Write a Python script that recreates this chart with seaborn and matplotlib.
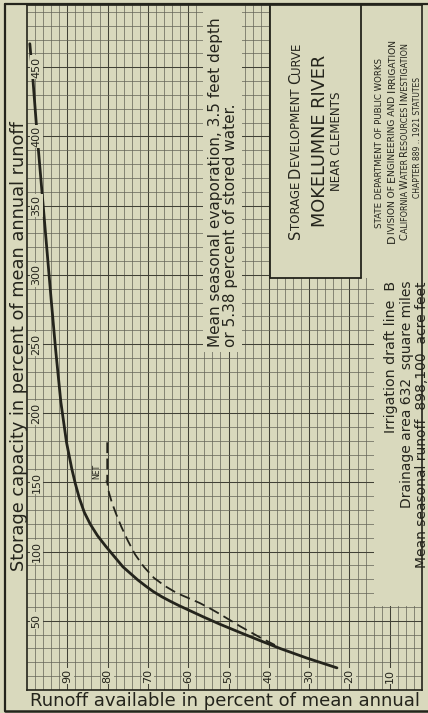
import numpy as np
import pandas as pd
import matplotlib
matplotlib.use("Agg")
import matplotlib.pyplot as plt
from matplotlib.patches import Rectangle
from matplotlib.lines import Line2D
from matplotlib.font_manager import FontProperties
import matplotlib.transforms as mtransforms
import seaborn as sns

# ---------------- data ----------------
gross_runoff = [99.3, 98.5, 97.4, 95.9, 95.2, 94.0, 92.9, 91.6, 90.2, 88.9, 88.0, 87.0,
                85.8, 84.3, 82.5, 80.5, 78.5, 76.2, 72.5, 70.5, 68.7, 66.5, 64.5, 62.3,
                60.3, 56.0, 52.1, 47.1, 42.0, 37.2, 30.5, 23.1]
gross_storage = [467, 440, 398, 347, 323, 282, 246, 208, 179, 160, 149, 138.5,
                 128.5, 119.8, 111.5, 104, 97, 89, 79.5, 75, 71.2, 67.3, 64.2, 61,
                 58.3, 52.5, 47.5, 41.5, 35.5, 30, 23, 16]

net_runoff = [80.1, 80.1, 79.7, 79.0, 78.0, 76.6, 75.0, 73.2, 71.0, 68.5, 65.7, 62.8,
              60.0, 57.1, 54.5, 52.1, 47.1, 42.2, 38.5]
net_storage = [179, 150, 143, 136, 128, 118, 108, 98, 89, 81, 75, 70,
               66.5, 62.8, 58.8, 54.8, 46, 38, 32.5]

storage_ticks = [50, 100, 150, 200, 250, 300, 350, 400, 450]
runoff_ticks = [90, 80, 70, 60, 50, 40, 30, 20, 10]

x_label = "Runoff available in percent of mean annual"
y_label = "Storage capacity in percent of mean annual runoff"

# ---------------- style ----------------
W, H = 428, 713
BG = "#d9d9bd"
INK = "#24241c"
GRID = "#636356"

sns.set_theme(style="white")
plt.rcParams['font.family'] = ['DejaVu Sans']

fig = plt.figure(figsize=(W / 100, H / 100), dpi=100, facecolor=BG)


def fx(x):
    return x / W


def fy(y):
    return 1 - y / H


AX_L, AX_R, AX_T, AX_B = 27, 422, 5, 690
ax = fig.add_axes([fx(AX_L), fy(AX_B), (AX_R - AX_L) / W, (AX_B - AX_T) / H])
ax.set_facecolor(BG)
ax.set_xlim(100, 2)
ax.set_ylim(0, 495)

ax.set_xticks(np.arange(10, 100, 10))
ax.set_xticks(np.arange(2, 100, 2), minor=True)
ax.set_yticks(np.arange(50, 495, 50))
ax.set_yticks(np.arange(10, 495, 10), minor=True)
ax.tick_params(which='both', length=0, labelbottom=False, labelleft=False)
ax.grid(which='minor', color=GRID, lw=0.5)
ax.grid(which='major', color="#414136", lw=0.75)
ax.set_axisbelow(True)
for sp in ax.spines.values():
    sp.set_color(INK)
    sp.set_linewidth(1.2)

# ---------------- curves ----------------
gross = pd.DataFrame({"runoff": gross_runoff, "storage": gross_storage})
net = pd.DataFrame({"runoff": net_runoff, "storage": net_storage})
sns.lineplot(data=gross, x="runoff", y="storage", sort=False, estimator=None,
             color=INK, lw=2.0, ax=ax, zorder=3)
sns.lineplot(data=net, x="runoff", y="storage", sort=False, estimator=None,
             color=INK, lw=1.3, linestyle=(0, (6, 3)), ax=ax, zorder=3)
ax.set_xlabel("")
ax.set_ylabel("")

# NET label
ax.annotate("NET", xy=(net_runoff[1], net_storage[1]), xytext=(82.6, 158),
            textcoords="data", rotation=90, fontsize=5.5, color=INK,
            ha="center", va="center", zorder=6,
            arrowprops=dict(arrowstyle="-", color=INK, lw=0.7, shrinkA=1, shrinkB=0))


# ---------------- blank areas & boxes ----------------
def blank(x0, y0, x1, y1, z=2):
    r = Rectangle((fx(x0), fy(y1)), (x1 - x0) / W, (y1 - y0) / H,
                  transform=fig.transFigure, facecolor=BG, edgecolor="none",
                  zorder=z, clip_on=False)
    ax.add_patch(r)


def seg(x0, y0, x1, y1, lw=1.3):
    ax.add_line(Line2D([fx(x0), fx(x1)], [fy(y0), fy(y1)], transform=fig.transFigure,
                       color=INK, lw=lw, zorder=4, clip_on=False))


blank(203, 5, 242, 352)          # evaporation note
blank(270, 5, 428, 278)          # title boxes
blank(374, 278, 428, 606)        # drainage note
seg(270, 4, 270, 278)
seg(270, 278, 361, 278)
seg(361, 4, 361, 278)
# outer frame
seg(5, 4, 428, 4, lw=1.6)
seg(5, 4, 5, 711, lw=1.6)
seg(5, 711, 428, 711, lw=1.8)

# ---------------- tick labels ----------------
tr_y = mtransforms.blended_transform_factory(fig.transFigure, ax.transData)
for v in storage_ticks:
    ax.text(fx(36.5), v, str(v), transform=tr_y, rotation=90, ha="center", va="center",
            fontsize=8, color=INK, zorder=6,
            bbox=dict(boxstyle="square,pad=0.12", fc=BG, ec="none"))
tr_x = mtransforms.blended_transform_factory(ax.transData, fig.transFigure)
for v in runoff_ticks:
    ax.text(v, fy(676), str(v), transform=tr_x, rotation=90, ha="center", va="center",
            fontsize=8, color=INK, zorder=6,
            bbox=dict(boxstyle="square,pad=0.12", fc=BG, ec="none"))


# ---------------- texts ----------------
def rtext(x, y, s, size, ha="left", **kw):
    ax.text(fx(x), fy(y), s, transform=fig.transFigure, rotation=90,
            rotation_mode="anchor", ha=ha, va="baseline", fontsize=size,
            color=INK, zorder=7, **kw)


ax.text(fx(30), fy(706), x_label, transform=fig.transFigure, ha="left", va="baseline",
        fontsize=13, color=INK, zorder=7)
rtext(24, 346, y_label, 12.8, ha="center")

rtext(220, 347, "Mean seasonal evaporation, 3.5 feet depth", 11)
rtext(235.5, 347, "or 5.38 percent of stored water.", 11)

rtext(395.5, 281, "Irrigation draft line  B", 10.3, ha="right")
rtext(411, 281, "Drainage area 632  square miles", 10.0, ha="right")
rtext(426.5, 281, "Mean seasonal runoff  898,100  acre feet", 10.0, ha="right")

renderer = fig.canvas.get_renderer()


def advance(s, sz):
    prop = FontProperties(size=sz)
    w1 = renderer.get_text_width_height_descent(s + "H", prop, ismath=False)[0]
    w0 = renderer.get_text_width_height_descent("H", prop, ismath=False)[0]
    return w1 - w0


def smallcaps(x, yc, text, big, small):
    runs = []
    for ch in text:
        sz = big if ch.isupper() else small
        if runs and runs[-1][1] == sz:
            runs[-1][0] += ch
        else:
            runs.append([ch, sz])
    widths = [advance(s.upper(), sz) for s, sz in runs]
    y = yc + sum(widths) / 2
    for (s, sz), w in zip(runs, widths):
        rtext(x, y, s.upper(), sz)
        y -= w


smallcaps(300, 141, "Storage Development Curve", 10.5, 8.5)
rtext(325, 141, "MOKELUMNE RIVER", 12.8, ha="center")
rtext(340, 141, "NEAR CLEMENTS", 8.6, ha="center")

smallcaps(382, 143, "STATE DEPARTMENT OF PUBLIC WORKS", 6.2, 6.2)
smallcaps(395, 141, "Division of Engineering and Irrigation", 8.0, 6.6)
smallcaps(407.5, 141, "California Water Resources Investigation", 7.0, 5.8)
smallcaps(420, 137, "CHAPTER 889 .. 1921 STATUTES", 5.5, 5.5)

fig.savefig("out.png", dpi=100, facecolor=BG)
